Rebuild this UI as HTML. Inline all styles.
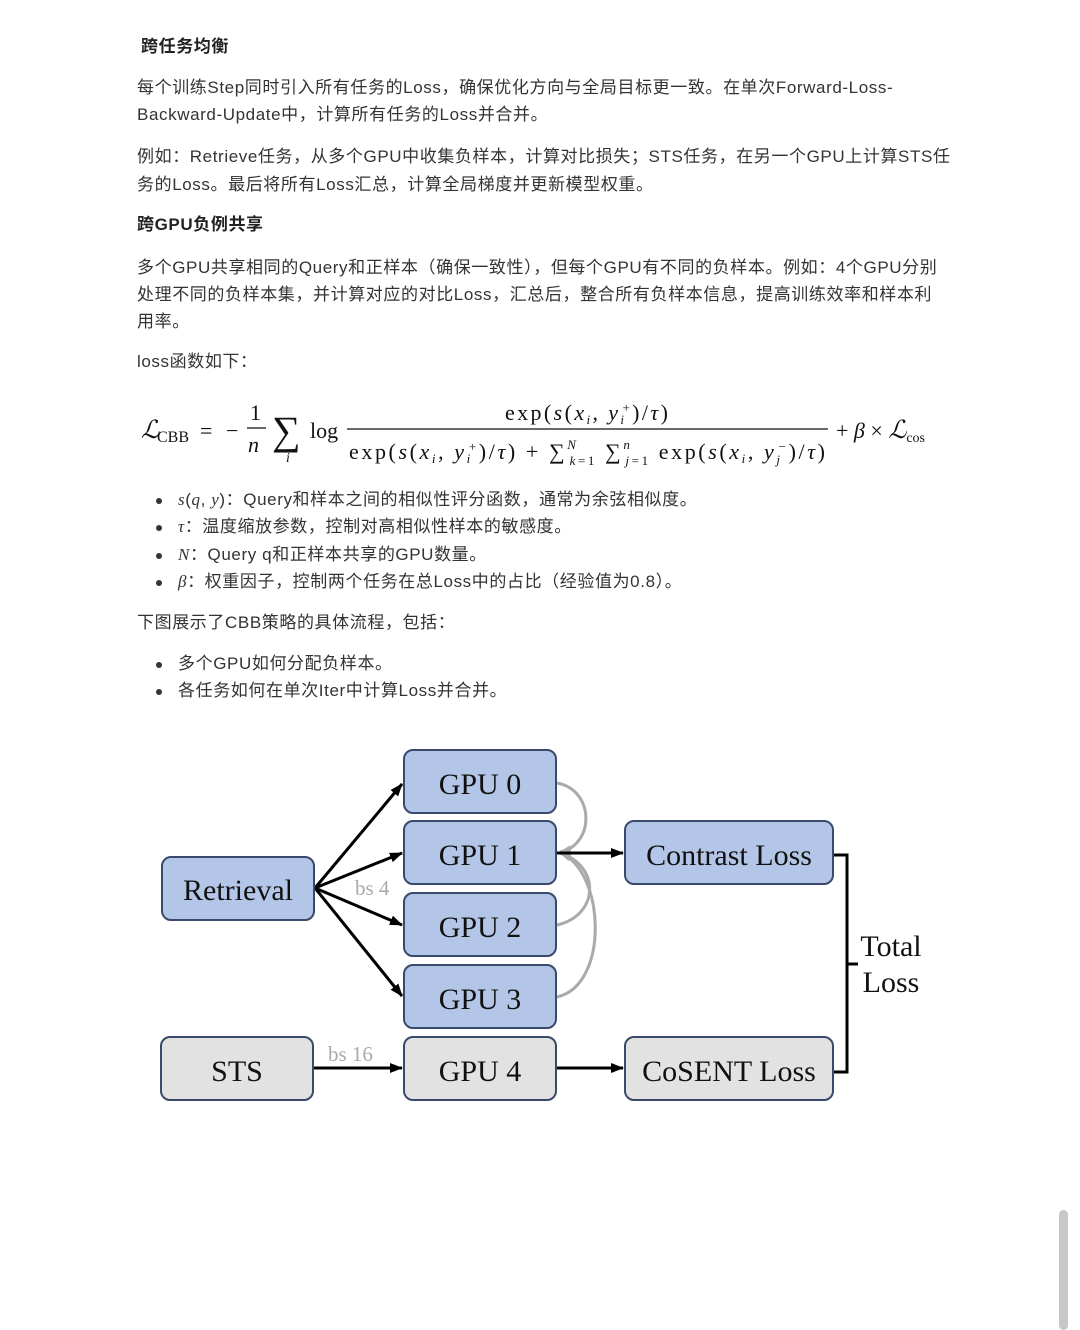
<!DOCTYPE html>
<html><head><meta charset="utf-8"><style>
body{margin:0;width:1080px;height:1322px;background:#fff;position:relative;overflow:hidden;font-family:"Liberation Sans","Noto Sans CJK SC",sans-serif;color:#333;}
.t{position:absolute;left:137px;font-size:17px;white-space:nowrap;line-height:20px;letter-spacing:0.6px;}
.b{font-weight:bold;color:#222;}
.li{position:absolute;left:178px;font-size:17px;white-space:nowrap;line-height:20px;letter-spacing:0.6px;}
.dot{position:absolute;left:156px;width:6px;height:6px;border-radius:50%;background:#333;}
.m{font-family:"Liberation Serif",serif;font-style:italic;}
</style></head><body>
<div class="t b" style="left:141px;top:37px">跨任务均衡</div>
<div class="t" style="top:78px">每个训练Step同时引入所有任务的Loss，确保优化方向与全局目标更一致。在单次Forward-Loss-</div>
<div class="t" style="top:105px">Backward-Update中，计算所有任务的Loss并合并。</div>
<div class="t" style="top:147px">例如：Retrieve任务，从多个GPU中收集负样本，计算对比损失；STS任务，在另一个GPU上计算STS任</div>
<div class="t" style="top:175px">务的Loss。最后将所有Loss汇总，计算全局梯度并更新模型权重。</div>
<div class="t b" style="top:215px">跨GPU负例共享</div>
<div class="t" style="top:258px">多个GPU共享相同的Query和正样本（确保一致性），但每个GPU有不同的负样本。例如：4个GPU分别</div>
<div class="t" style="top:285px">处理不同的负样本集，并计算对应的对比Loss，汇总后，整合所有负样本信息，提高训练效率和样本利</div>
<div class="t" style="top:312px">用率。</div>
<div class="t" style="top:352px">loss函数如下：</div>

<svg style="position:absolute;left:0;top:390px" width="1080" height="90" font-family="Liberation Serif,serif" font-size="22" fill="#111">
<text x="141" y="48" font-style="italic" font-size="25">ℒ</text><text x="157" y="52" font-size="16">CBB</text>
<text x="200" y="48">=</text><text x="226" y="48">−</text>
<text x="250" y="30">1</text><line x1="247" y1="38" x2="266" y2="38" stroke="#111" stroke-width="1.3"/><text x="248" y="62" font-style="italic">n</text>
<text x="272" y="54" font-size="40">∑</text><text x="286" y="72" font-size="14" font-style="italic">i</text>
<text x="310" y="48">log</text>
<text x="505" y="30" textLength="163" lengthAdjust="spacing">exp(<tspan font-style="italic">s</tspan>(<tspan font-style="italic">x</tspan><tspan font-size="13" font-style="italic" dy="4">i</tspan><tspan dy="-4">, </tspan><tspan font-style="italic">y</tspan><tspan font-size="13" font-style="italic" dy="4">i</tspan><tspan font-size="13" dx="-4" dy="-12">+</tspan><tspan dy="8">)/</tspan><tspan font-style="italic">τ</tspan>)</text>
<line x1="347" y1="39" x2="828" y2="39" stroke="#111" stroke-width="1.3"/>
<text x="349" y="69" textLength="476" lengthAdjust="spacing">exp(<tspan font-style="italic">s</tspan>(<tspan font-style="italic">x</tspan><tspan font-size="13" font-style="italic" dy="4">i</tspan><tspan dy="-4">, </tspan><tspan font-style="italic">y</tspan><tspan font-size="13" font-style="italic" dy="4">i</tspan><tspan font-size="13" dx="-4" dy="-12">+</tspan><tspan dy="8">)/</tspan><tspan font-style="italic">τ</tspan>) + ∑<tspan font-size="13" dy="-10" font-style="italic">N</tspan><tspan font-size="13" dx="-9" dy="16"><tspan font-style="italic">k</tspan>=1</tspan><tspan dy="-6"> ∑</tspan><tspan font-size="13" dy="-10" font-style="italic">n</tspan><tspan font-size="13" dx="-7" dy="16"><tspan font-style="italic">j</tspan>=1</tspan><tspan dy="-6"> exp(</tspan><tspan font-style="italic">s</tspan>(<tspan font-style="italic">x</tspan><tspan font-size="13" font-style="italic" dy="4">i</tspan><tspan dy="-4">, </tspan><tspan font-style="italic">y</tspan><tspan font-size="13" font-style="italic" dy="5">j</tspan><tspan font-size="13" dx="-4" dy="-13">−</tspan><tspan dy="8">)/</tspan><tspan font-style="italic">τ</tspan>)</text>
<text x="836" y="48">+ <tspan font-style="italic">β</tspan> × <tspan font-style="italic" font-size="25">ℒ</tspan><tspan font-size="14" dy="4">cos</tspan></text>
</svg>

<div class="dot" style="top:498px"></div><div class="li" style="top:490px"><span class="m">s</span>(<span class="m">q</span>, <span class="m">y</span>)：Query和样本之间的相似性评分函数，通常为余弦相似度。</div>
<div class="dot" style="top:525px"></div><div class="li" style="top:517px"><span class="m">τ</span>：温度缩放参数，控制对高相似性样本的敏感度。</div>
<div class="dot" style="top:553px"></div><div class="li" style="top:545px"><span class="m">N</span>：Query q和正样本共享的GPU数量。</div>
<div class="dot" style="top:580px"></div><div class="li" style="top:572px"><span class="m">β</span>：权重因子，控制两个任务在总Loss中的占比（经验值为0.8）。</div>
<div class="t" style="top:613px">下图展示了CBB策略的具体流程，包括：</div>
<div class="dot" style="top:662px"></div><div class="li" style="top:654px">多个GPU如何分配负样本。</div>
<div class="dot" style="top:689px"></div><div class="li" style="top:681px">各任务如何在单次Iter中计算Loss并合并。</div>

<svg style="position:absolute;left:0;top:0" width="1080" height="1322" font-family="Liberation Serif,serif" font-size="30" fill="#111">
<defs><marker id="a" markerWidth="13" markerHeight="10" refX="12" refY="5" orient="auto" markerUnits="userSpaceOnUse"><path d="M0,0 L13,5 L0,10 z" fill="#000"/></marker>
<marker id="g" markerWidth="12" markerHeight="9" refX="11" refY="4.5" orient="auto" markerUnits="userSpaceOnUse"><path d="M0,0 L12,4.5 L0,9 z" fill="#aaa"/></marker></defs>
<g stroke="#aaa" stroke-width="3" fill="none">
<path d="M557,783 C595,790 595,845 560,852" marker-end="url(#g)"/>
<path d="M557,925 C600,915 600,865 560,853" marker-end="url(#g)"/>
<path d="M557,997 C610,985 605,870 560,853" marker-end="url(#g)"/>
</g>
<g stroke="#000" stroke-width="3" fill="none">
<line x1="315" y1="888" x2="402" y2="784" marker-end="url(#a)"/>
<line x1="315" y1="888" x2="402" y2="853" marker-end="url(#a)"/>
<line x1="315" y1="888" x2="402" y2="925" marker-end="url(#a)"/>
<line x1="315" y1="888" x2="402" y2="996" marker-end="url(#a)"/>
<line x1="314" y1="1068" x2="402" y2="1068" marker-end="url(#a)"/>
<line x1="557" y1="853" x2="623" y2="853" marker-end="url(#a)"/>
<line x1="557" y1="1068" x2="623" y2="1068" marker-end="url(#a)"/>
<path d="M834,855 H847 V1072 H834"/>
<line x1="847" y1="964" x2="858" y2="964"/>
</g>
<g stroke="#3a4a6b" stroke-width="2">
<rect x="162" y="857" width="152" height="63" rx="9" fill="#b4c6e7"/>
<rect x="404" y="750" width="152" height="63" rx="9" fill="#b4c6e7"/>
<rect x="404" y="821" width="152" height="63" rx="9" fill="#b4c6e7"/>
<rect x="404" y="893" width="152" height="63" rx="9" fill="#b4c6e7"/>
<rect x="404" y="965" width="152" height="63" rx="9" fill="#b4c6e7"/>
<rect x="625" y="821" width="208" height="63" rx="9" fill="#b4c6e7"/>
<rect x="161" y="1037" width="152" height="63" rx="9" fill="#e2e2e2"/>
<rect x="404" y="1037" width="152" height="63" rx="9" fill="#e2e2e2"/>
<rect x="625" y="1037" width="208" height="63" rx="9" fill="#e2e2e2"/>
</g>
<g text-anchor="middle">
<text x="238" y="900">Retrieval</text>
<text x="480" y="794">GPU 0</text><text x="480" y="865">GPU 1</text>
<text x="480" y="937">GPU 2</text><text x="480" y="1009">GPU 3</text>
<text x="480" y="1081">GPU 4</text><text x="237" y="1081">STS</text>
<text x="729" y="865">Contrast Loss</text><text x="729" y="1081">CoSENT Loss</text>
<text x="891" y="956">Total</text><text x="891" y="992">Loss</text>
</g>
<text x="355" y="895" font-size="21" fill="#aaa">bs 4</text>
<text x="328" y="1061" font-size="21" fill="#aaa">bs 16</text>
</svg>
<div style="position:absolute;left:1059px;top:1210px;width:9px;height:120px;border-radius:5px;background:#c8c8c8"></div>
</body></html>
